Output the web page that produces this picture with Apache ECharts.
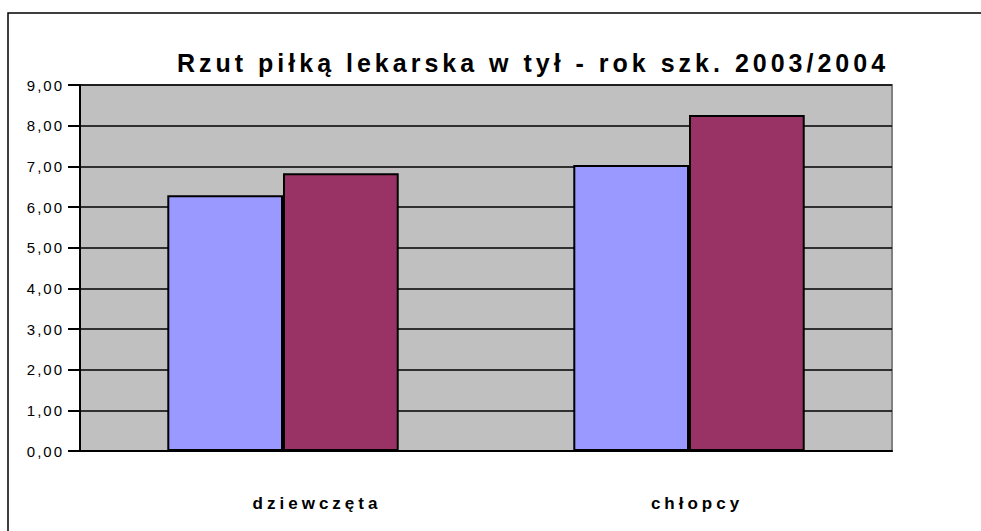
<!DOCTYPE html>
<html>
<head>
<meta charset="utf-8">
<title>Rzut piłką lekarska w tył</title>
<script src="https://cdn.jsdelivr.net/npm/echarts@6/dist/echarts.min.js"></script>
<style>
  html, body { margin: 0; padding: 0; background: #fff; }
  #chart { width: 981px; height: 531px; }
  /* rozstrzelony tekst jak w oryginale (Excel) */
  #chart svg text { letter-spacing: 2px; }
  #chart svg text[style*="25px"] { letter-spacing: 4px; }
  #chart svg text[style*="17px"] { letter-spacing: 4px; }
</style>
</head>
<body>
<div id="chart"></div>
<script>
// dane
const categories = ['dziewczęta', 'chłopcy'];
const seria1 = [6.29, 7.03];
const seria2 = [6.83, 8.26];
const yTicks = [0, 1, 2, 3, 4, 5, 6, 7, 8, 9];

const chart = echarts.init(document.getElementById('chart'), null, { renderer: 'svg' });

const option = {
  backgroundColor: '#ffffff',
  animation: false,
  title: {
    text: 'Rzut piłką lekarska w tył - rok szk. 2003/2004',
    left: 177,
    top: 50,
    padding: 0,
    textStyle: {
      fontFamily: 'Liberation Sans, Arial, sans-serif',
      fontSize: 25,
      fontWeight: 'bold',
      color: '#000',
    },
  },
  graphic: [
    {
      type: 'rect',
      shape: { x: 8, y: 13, width: 1000, height: 600 },
      style: { fill: 'none', stroke: '#000', lineWidth: 1.5 },
      silent: true,
    },
  ],
  grid: {
    left: 80,
    top: 85,
    right: 89,
    bottom: 80,
    show: true,
    backgroundColor: '#C0C0C0',
    borderColor: '#808080',
    borderWidth: 2,
  },
  xAxis: {
    type: 'category',
    data: categories,
    axisLine: { lineStyle: { color: '#000', width: 2 } },
    axisTick: { show: false },
    axisLabel: {
      margin: 44,
      color: '#000',
      formatter: function (v, i) {
        return i === 0 ? '{g|' + v + '}' : '{b|' + v + '}';
      },
      rich: {
        g: {
          fontFamily: 'Liberation Sans, Arial, sans-serif',
          fontSize: 17,
          fontWeight: 'bold',
          color: '#000',
          padding: [0, 0, 0, 68],
        },
        b: {
          fontFamily: 'Liberation Sans, Arial, sans-serif',
          fontSize: 17,
          fontWeight: 'bold',
          color: '#000',
          padding: [0, 0, 0, 16],
        },
      },
    },
  },
  yAxis: {
    type: 'value',
    min: yTicks[0],
    max: yTicks[yTicks.length - 1],
    interval: 1,
    axisLine: { show: true, lineStyle: { color: '#000', width: 2 } },
    axisTick: { show: true, inside: false, length: 12, lineStyle: { color: '#000', width: 2 } },
    splitLine: { show: true, lineStyle: { color: '#000', width: 1.5 } },
    axisLabel: {
      margin: 16,
      color: '#000',
      fontFamily: 'Liberation Sans, Arial, sans-serif',
      fontSize: 15,
      formatter: function (v) {
        return v.toFixed(2).replace('.', ',');
      },
    },
  },
  series: [
    {
      name: 'seria 1',
      type: 'bar',
      data: seria1,
      barGap: '0%',
      barCategoryGap: '43%',
      itemStyle: { color: '#9999FF', borderColor: '#000', borderWidth: 2 },
    },
    {
      name: 'seria 2',
      type: 'bar',
      data: seria2,
      itemStyle: { color: '#993366', borderColor: '#000', borderWidth: 2 },
    },
  ],
};

chart.setOption(option);
</script>
</body>
</html>
